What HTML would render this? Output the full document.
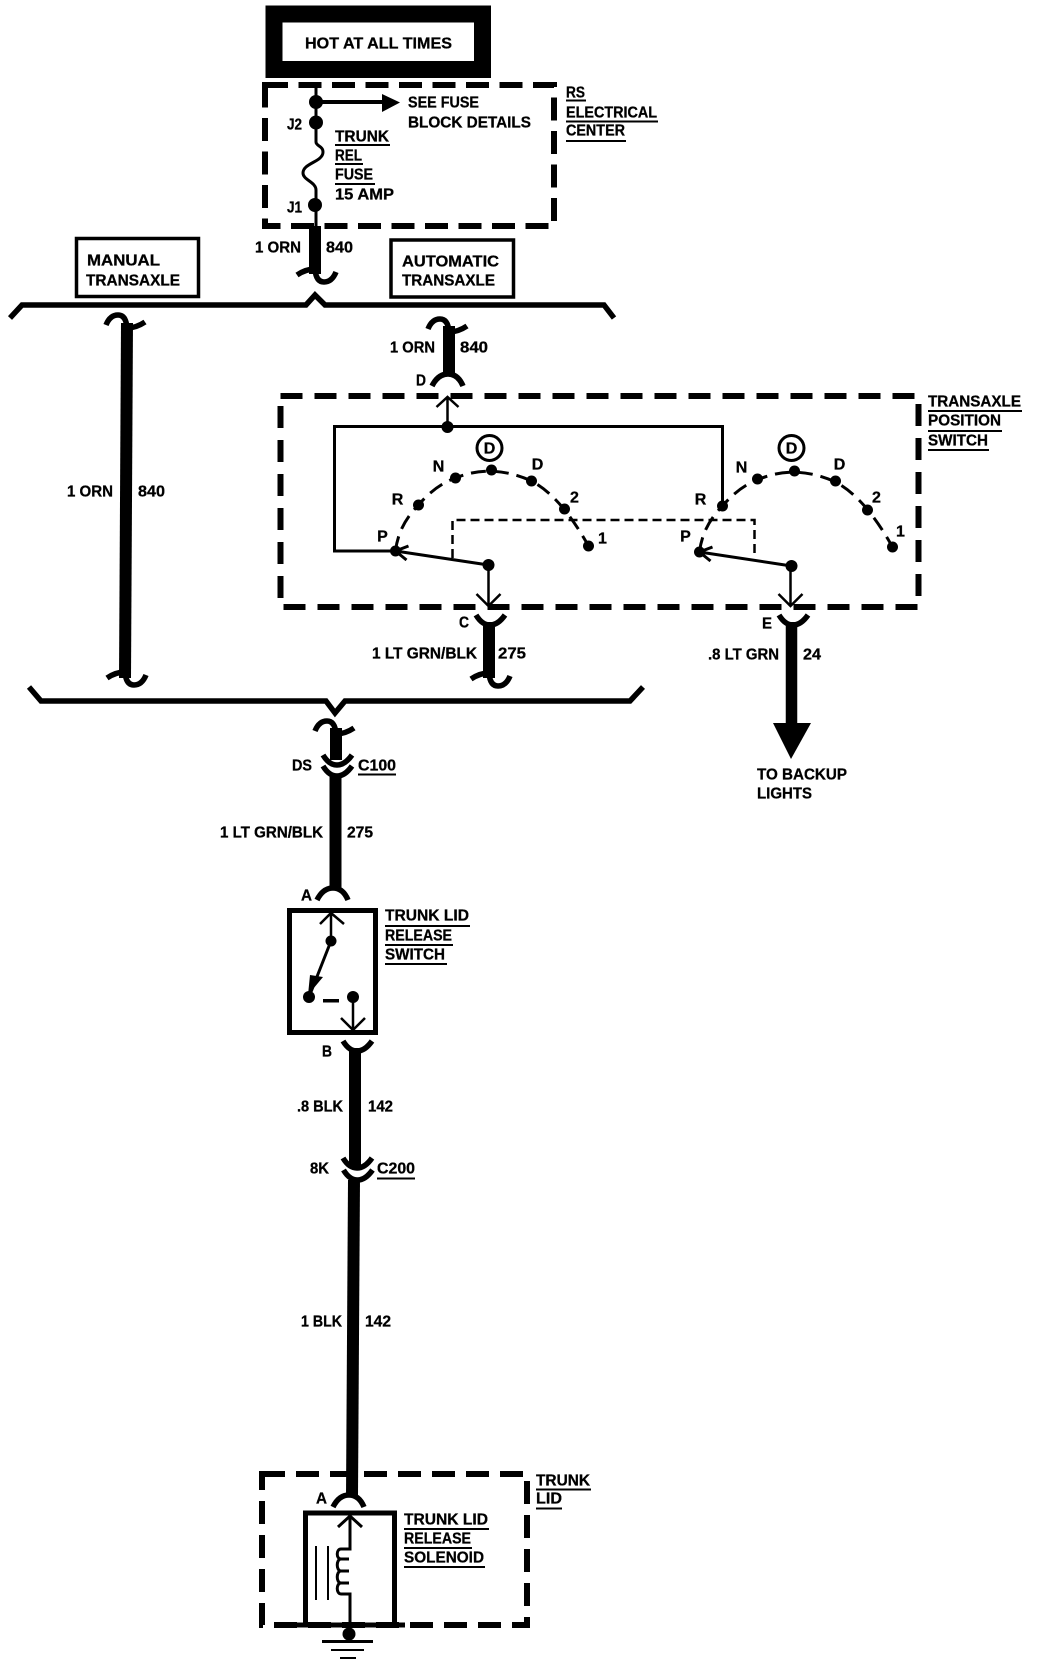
<!DOCTYPE html>
<html><head><meta charset="utf-8"><style>
html,body{margin:0;padding:0;background:#fff}
svg{display:block}
text{font-family:"Liberation Sans",sans-serif;font-weight:bold;font-size:16px;fill:#000;stroke:#000;stroke-width:.3;dominant-baseline:central}
</style></head><body>
<svg width="1040" height="1666" viewBox="0 0 1040 1666" xmlns="http://www.w3.org/2000/svg">
<defs>
<path id="tt" d="M-21,10 Q-17,0 -9,0 Q-1,0 0,13 Q9,13 18,7" fill="none" stroke="#000" stroke-width="5.500"/>
<path id="fu" d="M-14,0 Q-8,10 0,10 Q8,10 15,0" fill="none" stroke="#000" stroke-width="5.500"/>
<path id="fd" d="M-16,6 Q-10,-6 0,-6 Q10,-6 15,6" fill="none" stroke="#000" stroke-width="5.500"/>
<path id="arc" d="M0,0 Q3,-26 23,-46 Q40,-66 60,-73 Q96,-88 136,-70 Q165,-55 193,-5" fill="none" stroke="#000" stroke-width="3" stroke-dasharray="15 8"/>
</defs>
<rect width="1040" height="1666" fill="#fff"/>

<!-- HOT AT ALL TIMES -->
<rect x="274" y="14" width="208.500" height="55.500" fill="#fff" stroke="#000" stroke-width="17"/>
<text x="305" y="44" textLength="147" lengthAdjust="spacingAndGlyphs">HOT AT ALL TIMES</text>

<!-- RS electrical centre -->
<rect x="265" y="85" width="289" height="141" fill="none" stroke="#000" stroke-width="6" stroke-dasharray="23 10.500"/>
<path d="M316,85V142 C316,146 323,146 323,152 C323,162 303,163 303,173 C303,180 316,182 316,190V226" fill="none" stroke="#000" stroke-width="3"/>
<circle cx="316" cy="102" r="7"/><circle cx="316" cy="122.500" r="7"/><circle cx="315" cy="205" r="7"/>
<path d="M316,102H386" stroke="#000" stroke-width="4"/><path d="M382,94L400,102.500L382,112Z"/>
<text x="408" y="103" textLength="71" lengthAdjust="spacingAndGlyphs">SEE FUSE</text>
<text x="408" y="123" textLength="123" lengthAdjust="spacingAndGlyphs">BLOCK DETAILS</text>
<text x="287" y="125" textLength="15" lengthAdjust="spacingAndGlyphs">J2</text>
<text x="287" y="208" textLength="15" lengthAdjust="spacingAndGlyphs">J1</text>
<text x="335" y="137" textLength="54" lengthAdjust="spacingAndGlyphs">TRUNK</text><rect x="335" y="144" width="55" height="2"/>
<text x="335" y="156" textLength="27" lengthAdjust="spacingAndGlyphs">REL</text><rect x="335" y="163" width="28" height="2"/>
<text x="335" y="175" textLength="38" lengthAdjust="spacingAndGlyphs">FUSE</text><rect x="335" y="183" width="40" height="2"/>
<text x="335" y="195" textLength="59" lengthAdjust="spacingAndGlyphs">15 AMP</text>
<text x="566" y="93" textLength="19" lengthAdjust="spacingAndGlyphs">RS</text><rect x="566" y="99.500" width="20" height="2"/>
<text x="566" y="113" textLength="91" lengthAdjust="spacingAndGlyphs">ELECTRICAL</text><rect x="566" y="120.500" width="92" height="2"/>
<text x="566" y="131" textLength="59" lengthAdjust="spacingAndGlyphs">CENTER</text><rect x="566" y="140" width="60" height="2"/>

<path d="M315,226V274" stroke="#000" stroke-width="12"/>
<use href="#tt" transform="translate(315,282) rotate(180)"/>
<text x="255" y="248" textLength="46" lengthAdjust="spacingAndGlyphs">1 ORN</text>
<text x="326" y="248" textLength="27" lengthAdjust="spacingAndGlyphs">840</text>

<!-- Manual / automatic -->
<rect x="76.500" y="238.500" width="122" height="58" fill="#fff" stroke="#000" stroke-width="3.500"/>
<text x="87" y="261" textLength="73" lengthAdjust="spacingAndGlyphs">MANUAL</text>
<text x="86" y="281" textLength="94" lengthAdjust="spacingAndGlyphs">TRANSAXLE</text>
<rect x="391" y="240" width="122.500" height="57" fill="#fff" stroke="#000" stroke-width="3.500"/>
<text x="402" y="262" textLength="97" lengthAdjust="spacingAndGlyphs">AUTOMATIC</text>
<text x="402" y="281" textLength="93" lengthAdjust="spacingAndGlyphs">TRANSAXLE</text>

<!-- Upper brace -->
<path d="M10,318L22,305H306L315,295L325,305H604L614,318" fill="none" stroke="#000" stroke-width="5.500"/>

<!-- Manual wire -->
<path d="M127,323L125,678" stroke="#000" stroke-width="12"/>
<use href="#tt" transform="translate(127,315)"/>
<use href="#tt" transform="translate(125,685) rotate(180)"/>
<text x="67" y="492" textLength="46" lengthAdjust="spacingAndGlyphs">1 ORN</text>
<text x="138" y="492" textLength="27" lengthAdjust="spacingAndGlyphs">840</text>

<!-- D wire -->
<path d="M449,326V374" stroke="#000" stroke-width="12"/>
<use href="#tt" transform="translate(449,319)"/>
<use href="#fd" transform="translate(448,380)"/>
<text x="416" y="381" textLength="10" lengthAdjust="spacingAndGlyphs">D</text>
<text x="390" y="348" textLength="45" lengthAdjust="spacingAndGlyphs">1 ORN</text>
<text x="460" y="348" textLength="28" lengthAdjust="spacingAndGlyphs">840</text>

<!-- Transaxle switch -->
<text x="928" y="402" textLength="93" lengthAdjust="spacingAndGlyphs">TRANSAXLE</text><rect x="928" y="410" width="94" height="2"/>
<text x="928" y="421" textLength="73" lengthAdjust="spacingAndGlyphs">POSITION</text><rect x="928" y="430" width="74" height="2"/>
<text x="928" y="441" textLength="60" lengthAdjust="spacingAndGlyphs">SWITCH</text><rect x="928" y="449" width="61" height="2"/>
<g transform="translate(-1.500,0)">
<rect x="282" y="396" width="638" height="211" fill="none" stroke="#000" stroke-width="6" stroke-dasharray="22 12"/>
<path d="M449,427V397M438,407L449,397L460,407" fill="none" stroke="#000" stroke-width="2.500"/>
<path d="M724,507V426.500H336V551H397" fill="none" stroke="#000" stroke-width="3"/>
<circle cx="449" cy="427" r="6"/>
<use href="#arc" transform="translate(397,551)"/>
<use href="#arc" transform="translate(701,552)"/>
<circle cx="397" cy="551" r="5.500"/><circle cx="420" cy="505" r="5.500"/><circle cx="457" cy="478" r="5.500"/><circle cx="493" cy="470" r="5.500"/><circle cx="533" cy="481" r="5.500"/><circle cx="566" cy="509" r="5.500"/><circle cx="590" cy="546" r="5.500"/>
<circle cx="701" cy="552" r="5.500"/><circle cx="724" cy="506" r="5.500"/><circle cx="759" cy="479" r="5.500"/><circle cx="796" cy="471" r="5.500"/><circle cx="837" cy="481" r="5.500"/><circle cx="869" cy="510" r="5.500"/><circle cx="894" cy="547" r="5.500"/>
<circle cx="491" cy="448" r="12.500" fill="#fff" stroke="#000" stroke-width="3"/>
<circle cx="793" cy="448" r="12.500" fill="#fff" stroke="#000" stroke-width="3"/>
<text x="491" y="449" text-anchor="middle">D</text>
<text x="793" y="449" text-anchor="middle">D</text>
<g text-anchor="middle">
<text x="384" y="537">P</text><text x="399" y="500">R</text><text x="440" y="467">N</text><text x="539" y="465">D</text><text x="576" y="498">2</text><text x="604" y="539">1</text>
<text x="687" y="537">P</text><text x="702" y="500">R</text><text x="743" y="468">N</text><text x="841" y="465">D</text><text x="878" y="498">2</text><text x="902" y="532">1</text>
</g>
<path d="M454,558V520H756V557" fill="none" stroke="#000" stroke-width="2.500" stroke-dasharray="9 5"/>
<path d="M490,565L397,551M410,546L397,551L408,560" fill="none" stroke="#000" stroke-width="3"/>
<path d="M793,566L701,552M714,547L701,552L712,561" fill="none" stroke="#000" stroke-width="3"/>
<circle cx="490" cy="565" r="6"/><circle cx="793" cy="566" r="6"/>
<path d="M490,565V605M478,594L490,606L502,594" fill="none" stroke="#000" stroke-width="2.500"/>
<path d="M792,566V605M780,594L792,606L804,594" fill="none" stroke="#000" stroke-width="2.500"/>
</g>

<!-- C wire -->
<path d="M489,622V678" stroke="#000" stroke-width="12"/>
<use href="#fu" transform="translate(490,615)"/>
<use href="#tt" transform="translate(489,686) rotate(180)"/>
<text x="459" y="623" textLength="10" lengthAdjust="spacingAndGlyphs">C</text>
<text x="372" y="654" textLength="105" lengthAdjust="spacingAndGlyphs">1 LT GRN/BLK</text>
<text x="498" y="654" textLength="28" lengthAdjust="spacingAndGlyphs">275</text>

<!-- E wire -->
<path d="M791.500,622V725" stroke="#000" stroke-width="11.500"/>
<use href="#fu" transform="translate(793,615)"/>
<path d="M773,723H811L791,759Z"/>
<text x="762" y="624" textLength="10" lengthAdjust="spacingAndGlyphs">E</text>
<text x="708" y="655" textLength="71" lengthAdjust="spacingAndGlyphs">.8 LT GRN</text>
<text x="803" y="655" textLength="18" lengthAdjust="spacingAndGlyphs">24</text>
<text x="757" y="775" textLength="90" lengthAdjust="spacingAndGlyphs">TO BACKUP</text>
<text x="757" y="794" textLength="55" lengthAdjust="spacingAndGlyphs">LIGHTS</text>

<!-- Lower brace -->
<path d="M29,687L41,701H326L335,713L345,701H630L643,687" fill="none" stroke="#000" stroke-width="5.500"/>

<!-- C100 wire -->
<path d="M336,728V760" stroke="#000" stroke-width="12"/>
<use href="#tt" transform="translate(336,721)"/>
<use href="#fu" transform="translate(337,755)"/>
<use href="#fu" transform="translate(337,766)"/>
<path d="M335.500,775V890" stroke="#000" stroke-width="12"/>
<text x="292" y="766" textLength="20" lengthAdjust="spacingAndGlyphs">DS</text>
<text x="358" y="766" textLength="38" lengthAdjust="spacingAndGlyphs">C100</text><rect x="358" y="773.500" width="38" height="2"/>
<text x="220" y="833" textLength="103" lengthAdjust="spacingAndGlyphs">1 LT GRN/BLK</text>
<text x="347" y="833" textLength="26" lengthAdjust="spacingAndGlyphs">275</text>

<!-- Trunk switch -->
<use href="#fd" transform="translate(333,894)"/>
<text x="301" y="896" textLength="11" lengthAdjust="spacingAndGlyphs">A</text>
<rect x="289.500" y="910.500" width="86" height="122" fill="#fff" stroke="#000" stroke-width="5"/>
<path d="M331,941V913M320,924L331,913L344,924" fill="none" stroke="#000" stroke-width="2.500"/>
<path d="M331,941L309,997" stroke="#000" stroke-width="3"/>
<path d="M310,975L323,977L308,995Z"/>
<circle cx="331" cy="941" r="5.500"/><circle cx="309" cy="997" r="6"/><circle cx="353" cy="997" r="6"/>
<rect x="323" y="999" width="16" height="3.500"/>
<path d="M353,997V1030M341,1018L353,1030L365,1018" fill="none" stroke="#000" stroke-width="2.500"/>
<text x="385" y="916" textLength="84" lengthAdjust="spacingAndGlyphs">TRUNK LID</text><rect x="385" y="925" width="85" height="2"/>
<text x="385" y="936" textLength="67" lengthAdjust="spacingAndGlyphs">RELEASE</text><rect x="385" y="944" width="68" height="2"/>
<text x="385" y="955" textLength="60" lengthAdjust="spacingAndGlyphs">SWITCH</text><rect x="385" y="963" width="62" height="2"/>

<!-- B wire -->
<use href="#fu" transform="translate(357,1041)"/>
<path d="M355,1048V1166" stroke="#000" stroke-width="12"/>
<text x="322" y="1052" textLength="10" lengthAdjust="spacingAndGlyphs">B</text>
<text x="297" y="1107" textLength="46" lengthAdjust="spacingAndGlyphs">.8 BLK</text>
<text x="368" y="1107" textLength="25" lengthAdjust="spacingAndGlyphs">142</text>
<use href="#fu" transform="translate(357,1158)"/>
<use href="#fu" transform="translate(357.500,1170)"/>
<text x="310" y="1169" textLength="19" lengthAdjust="spacingAndGlyphs">8K</text>
<text x="377" y="1169" textLength="38" lengthAdjust="spacingAndGlyphs">C200</text><rect x="377" y="1177.500" width="38" height="2"/>
<path d="M354,1180L352,1496" stroke="#000" stroke-width="12"/>
<text x="301" y="1322" textLength="41" lengthAdjust="spacingAndGlyphs">1 BLK</text>
<text x="365" y="1322" textLength="26" lengthAdjust="spacingAndGlyphs">142</text>

<!-- Trunk lid -->
<rect x="262" y="1474" width="265" height="151" fill="none" stroke="#000" stroke-width="6" stroke-dasharray="23 11"/>
<text x="536" y="1481" textLength="54" lengthAdjust="spacingAndGlyphs">TRUNK</text><rect x="536" y="1488.500" width="55" height="2"/>
<text x="536" y="1499" textLength="26" lengthAdjust="spacingAndGlyphs">LID</text><rect x="536" y="1507.500" width="26" height="2"/>
<use href="#fd" transform="translate(349,1501)"/>
<text x="316" y="1499" textLength="11" lengthAdjust="spacingAndGlyphs">A</text>
<path d="M305.500,1625V1513H394.500V1625" fill="none" stroke="#000" stroke-width="5"/>
<path d="M282,1625H405" stroke="#000" stroke-width="5"/>
<path d="M350,1625V1594H341C336,1594 336,1583 341,1583H349M341,1583C336,1583 336,1571 341,1571H349M341,1571C336,1571 336,1559 341,1559H349M341,1559C336,1559 336,1549 341,1549H350V1516M338,1527L350,1516L362,1527" fill="none" stroke="#000" stroke-width="3"/>
<path d="M316,1546V1600M328,1546V1600" stroke="#000" stroke-width="2"/>
<text x="404" y="1520" textLength="84" lengthAdjust="spacingAndGlyphs">TRUNK LID</text><rect x="404" y="1528" width="85" height="2"/>
<text x="404" y="1539" textLength="67" lengthAdjust="spacingAndGlyphs">RELEASE</text><rect x="404" y="1547" width="68" height="2"/>
<text x="404" y="1558" textLength="80" lengthAdjust="spacingAndGlyphs">SOLENOID</text><rect x="404" y="1566" width="81" height="2"/>
<circle cx="349" cy="1634" r="6.500"/>
<rect x="322" y="1640" width="51" height="3"/>
<rect x="331" y="1649" width="33" height="2"/>
<rect x="340" y="1657" width="16" height="2"/>
</svg>
</body></html>
